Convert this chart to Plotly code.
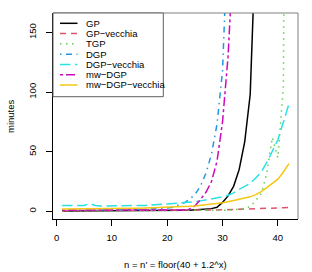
import plotly.graph_objects as go

x = list(range(1, 43))

gp = [0.3]*10 + [0.4, 0.4, 0.45, 0.45, 0.5, 0.5, 0.55, 0.55, 0.6, 0.6,
      0.7, 0.8, 0.9, 1.0, 1.2, 1.5, 2.0, 2.3, 3.5, 7.5, 13, 21, 35, 58, 98, 170,
      290, 490, 830, 1400, 2400, 4000]
gp_vecchia = [0.6]*10 + [0.7]*10 + [0.8, 0.85, 0.9, 0.95, 1.0, 1.05, 1.1, 1.15, 1.2, 1.3,
              1.4, 1.5, 1.6, 1.7, 1.8, 2.0, 2.1, 2.2, 2.5, 2.7, 3.0, 3.3]
tgp = [0.4]*10 + [0.5]*10 + [0.6, 0.6, 0.7, 0.7, 0.8, 0.8, 0.9, 0.9, 1.0, 1.0,
       1.0, 1.3, 1.8, 2.5, 4.0, 9.0, 15, 32, 62, 45, 105, 900]
dgp = [1.0, 1.0, 1.1, 1.1, 1.1, 1.2, 1.2, 1.2, 1.3, 1.3, 1.3, 1.4, 1.4, 1.5, 1.5,
       1.7, 1.9, 2.1, 2.4, 2.8, 3.5, 5.0, 7.0, 10, 14, 21, 32, 48, 73, 118, 190,
       300, 480, 760, 1200, 1900, 3000, 4800, 7600, 12000, 19000, 30000]
dgp_vecchia = [5.0, 5.0, 4.5, 4.5, 5.0, 6.5, 5.0, 4.5, 4.5, 4.5, 4.5, 4.5, 4.5, 4.7,
               5.0, 5.0, 5.2, 5.5, 5.8, 6.0, 6.3, 6.6, 7.0, 7.5, 8.0, 8.8, 9.5,
               10.3, 11.2, 12.2, 13.5, 15.5, 18.5, 21, 23.5, 28, 33, 41, 50, 60, 75, 90]
mw_dgp = [1.0]*22 + [1.2, 1.8, 4.5, 10, 16, 25, 42, 75, 130, 220,
          370, 620, 1000, 1700, 2800, 4600, 7600, 12000, 20000, 33000]
mw_dgp_vecchia = [2.0, 2.0, 2.0, 2.1, 2.1, 2.1, 2.2, 2.2, 2.2, 2.3, 2.3, 2.4, 2.5,
                  2.6, 2.7, 2.8, 2.9, 3.0, 3.1, 3.3, 3.5, 3.7, 3.9, 4.2, 4.6, 5.0,
                  5.5, 6.0, 6.6, 7.2, 8.0, 9.0, 10, 11, 12.2, 14, 16.5, 20, 23.5,
                  27, 33, 40]

names = ["GP", "GP\u2212vecchia", "TGP", "DGP", "DGP\u2212vecchia", "mw\u2212DGP",
         "mw\u2212DGP\u2212vecchia"]
series = [gp, gp_vecchia, tgp, dgp, dgp_vecchia, mw_dgp, mw_dgp_vecchia]
colors = ["#000000", "#DF536B", "#61D04F", "#2297E6", "#28E2E5", "#CD0BBC", "#F5C710"]
dashes = ["solid", "6px,5px", "1.5px,4.5px", "1.5px,4.5px,6px,4.5px", "10.5px,4.5px",
          "3px,3px,9px,3px", "solid"]

x_ticks = [0, 10, 20, 30, 40]
y_ticks = [0, 50, 100, 150]

FONT = "Liberation Sans, Arial, Helvetica, sans-serif"
FS = 9.5

fig = go.Figure()
for nm, ys, c, d in zip(names, series, colors, dashes):
    fig.add_trace(go.Scatter(x=x, y=ys, mode="lines", name=nm,
                             line=dict(color=c, width=1.5, dash=d),
                             showlegend=False))

fig.update_layout(
    width=312, height=272,
    margin=dict(l=53, r=14, t=13, b=53),
    paper_bgcolor="white", plot_bgcolor="white",
    font=dict(family=FONT, size=FS, color="black"),
    xaxis=dict(range=[-0.64, 43.64], tickvals=x_ticks, ticks="outside", ticklen=6,
               tickcolor="black", showgrid=False, zeroline=False, showline=True,
               linecolor="black", linewidth=1, tickfont=dict(size=FS),
               ticklabelstandoff=4, automargin=False),
    yaxis=dict(range=[-6.4, 166.4], tickvals=y_ticks, ticks="outside", ticklen=6,
               tickcolor="black", showgrid=False, zeroline=False, showline=True,
               linecolor="black", linewidth=1, tickangle=-90, tickfont=dict(size=FS),
               ticklabelstandoff=6, automargin=False),
)

# gray box (top/right)
fig.add_shape(type="line", xref="paper", yref="paper", x0=0, x1=1, y0=1, y1=1,
              line=dict(color="#808080", width=1))
fig.add_shape(type="line", xref="paper", yref="paper", x0=1, x1=1, y0=0, y1=1,
              line=dict(color="#808080", width=1))

# axis titles
fig.add_annotation(text="n = n' = floor(40 + 1.2^x)", xref="paper", yref="paper",
                   x=0.5, y=-0.223, xanchor="center", yanchor="middle",
                   showarrow=False, font=dict(size=FS))
fig.add_annotation(text="minutes", xref="paper", yref="paper", x=-0.1755, y=0.5,
                   xanchor="center", yanchor="middle", textangle=-90,
                   showarrow=False, font=dict(size=FS))

# legend box
W, H = 245.0, 206.0
def px(p):
    return (p - 53) / W
def py(p):
    return (219 - p) / H

fig.add_shape(type="rect", xref="paper", yref="paper", x0=0, x1=px(163.3),
              y0=py(96.7), y1=1, line=dict(color="#606060", width=1),
              fillcolor="white", layer="above")
for i, (nm, c, d) in enumerate(zip(names, colors, dashes)):
    yy = py(23.3 + 10.28 * i)
    fig.add_shape(type="line", xref="paper", yref="paper", x0=px(60), x1=px(77.5),
                  y0=yy, y1=yy, line=dict(color=c, width=1.5, dash=d), layer="above")
    fig.add_annotation(text=nm, xref="paper", yref="paper", x=px(84), y=yy,
                       xanchor="left", yanchor="middle", showarrow=False,
                       font=dict(size=FS))

fig.write_html("out.html", config={"displayModeBar": False},
               post_script="document.body.style.margin='0';document.body.style.overflow='hidden';")
